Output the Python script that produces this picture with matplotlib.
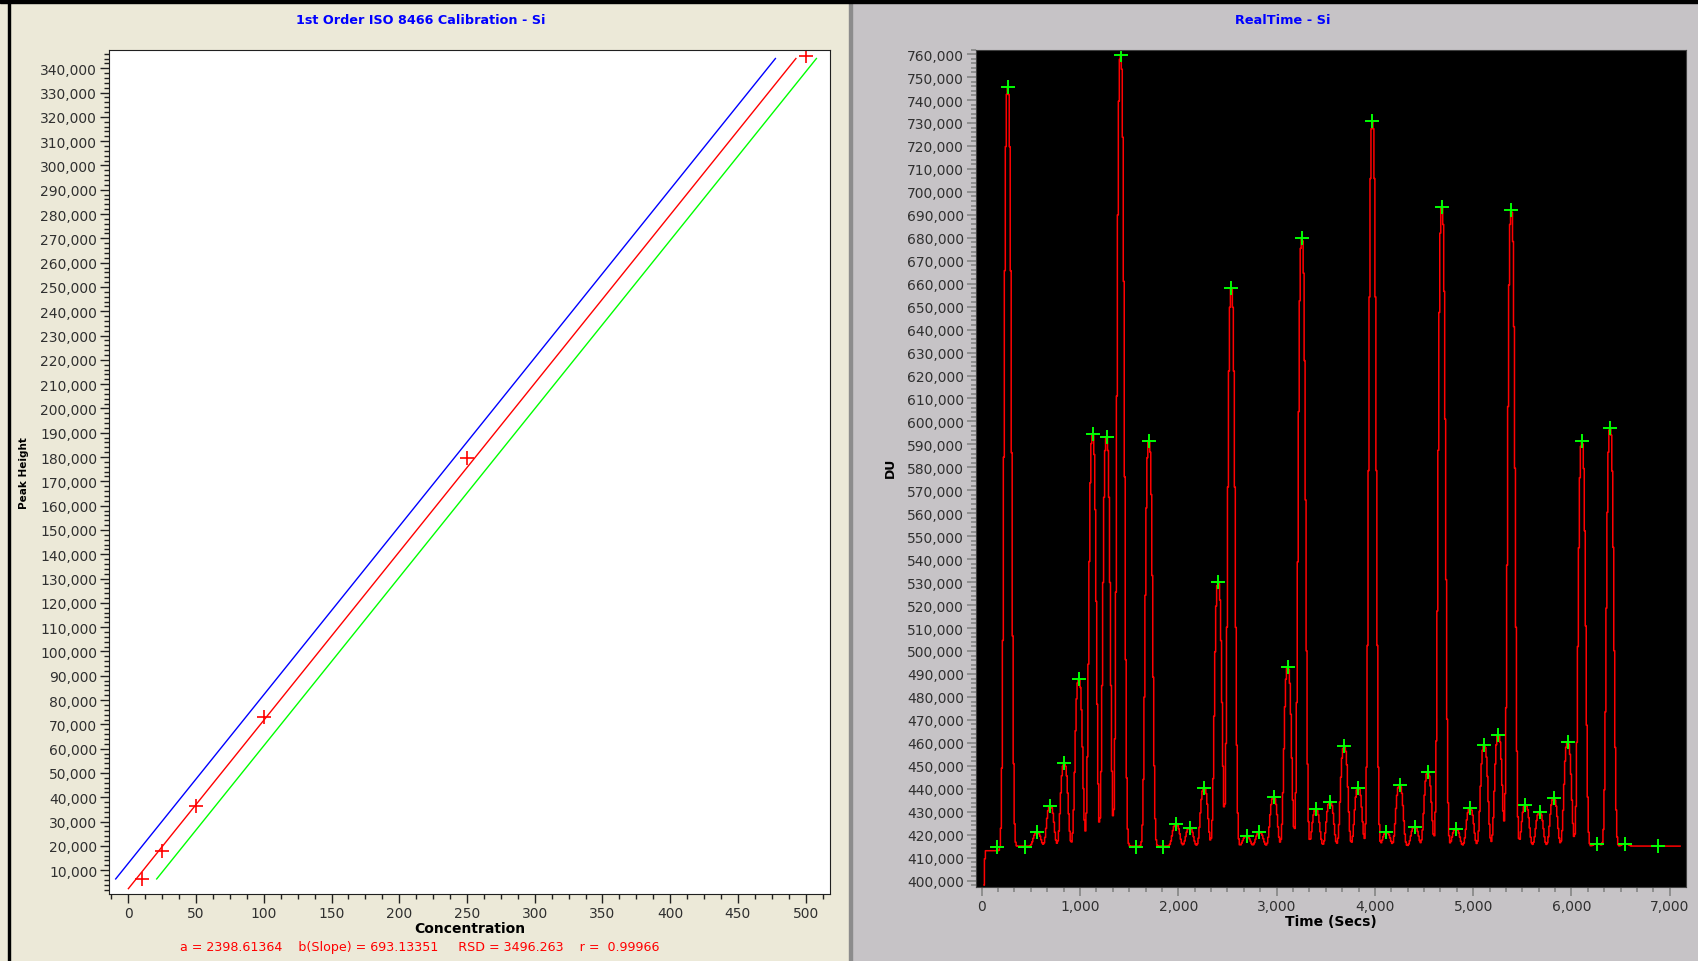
import numpy as np
import matplotlib.pyplot as plt
from matplotlib.patches import Rectangle
from matplotlib.ticker import MultipleLocator, AutoMinorLocator, FuncFormatter

# calibracion (patrones y ajuste de 1er orden)
conc_std = [10, 25, 50, 100, 250, 500]
height_std = [6500, 17700, 36300, 73200, 179500, 345000]
a_fit = 2398.61364
b_fit = 693.13351
rsd_fit = 3496.263
r_fit = 0.99966
band_y_min = 6400
line_y_max = 344000

# senal en tiempo real: picos marcados (tiempo, altura)
peak_times = [155, 265, 442, 563, 698, 840, 988, 1128, 1270, 1413, 1572, 1701,
              1844, 1977, 2115, 2263, 2406, 2540, 2694, 2826, 2970, 3114, 3257,
              3400, 3544, 3688, 3831, 3975, 4118, 4251, 4405, 4538, 4681, 4825,
              4968, 5112, 5256, 5388, 5532, 5675, 5819, 5962, 6106, 6260, 6393,
              6547, 6879]
peak_heights = [414500, 745800, 414500, 421000, 432500, 451000, 487700, 594400,
                593400, 759500, 414500, 591500, 414500, 424500, 423000, 440500,
                530000, 658000, 419300, 421000, 436300, 493000, 680000, 431000,
                434400, 458400, 440500, 730700, 421000, 441500, 423500, 447100,
                693500, 422600, 431500, 458900, 463600, 692000, 433000, 429700,
                435800, 460300, 591500, 416000, 597200, 416000, 415000]
baseline = 415000
start_baseline = 413000
peak_width = 46      # s, forma exp(-|dt/w|^3)
sample_step = 10     # s
start_times = [25, 30]
start_vals = [398000, 409500]
end_time = 7115

BEIGE = '#ECE9D8'
GRIS = '#C6C3C6'
W, H = 1698, 962

fig = plt.figure(figsize=(W / 100, H / 100), dpi=100)

# fondos de los paneles
fig.patches.append(Rectangle((0, 0), 851 / W, 1, transform=fig.transFigure, color=BEIGE, zorder=-10))
fig.patches.append(Rectangle((851 / W, 0), 1 - 851 / W, 1, transform=fig.transFigure, color=GRIS, zorder=-10))
fig.patches.append(Rectangle((849 / W, 0), 3 / W, 1, transform=fig.transFigure, color='#8C8C8C', zorder=-9))
fig.patches.append(Rectangle((0, 1 - 4 / H), 1, 4 / H, transform=fig.transFigure, color='black', zorder=-9))
fig.patches.append(Rectangle((8 / W, 0), 2 / W, 1, transform=fig.transFigure, color='black', zorder=-9))

miles = FuncFormatter(lambda v, p: f"{v:,.0f}")
narrow = ['Liberation Sans Narrow', 'DejaVu Sans']

# ---- panel izquierdo: calibracion ----
ax1 = fig.add_axes([109 / W, 1 - 895 / H, (830 - 109) / W, (895 - 51) / H])
ax1.set_facecolor('white')

off = 3 * rsd_fit
x_red = np.array([0, (line_y_max - a_fit) / b_fit])
x_blue = np.array([(band_y_min - a_fit - off) / b_fit, (line_y_max - a_fit - off) / b_fit])
x_green = np.array([(band_y_min - a_fit + off) / b_fit, (line_y_max - a_fit + off) / b_fit])
ax1.plot(x_blue, a_fit + off + b_fit * x_blue, color='#0000FF', lw=1)
ax1.plot(x_red, a_fit + b_fit * x_red, color='#FF0000', lw=1)
ax1.plot(x_green, a_fit - off + b_fit * x_green, color='#00FF00', lw=1)
ax1.plot(conc_std, height_std, ls='none', marker='+', ms=10, mew=1.2, color='#FF0000')

ax1.set_xlim(-14.3, 518)
ax1.set_ylim(200, 347500)
ax1.xaxis.set_major_locator(MultipleLocator(50))
ax1.xaxis.set_minor_locator(AutoMinorLocator(4))
ax1.yaxis.set_major_locator(MultipleLocator(10000))
ax1.yaxis.set_minor_locator(AutoMinorLocator(5))
ax1.yaxis.set_major_formatter(miles)
ax1.tick_params(which='major', length=6.5, width=1, color='#202020', labelsize=10,
                labelcolor='#303030', pad=2)
ax1.tick_params(which='minor', length=3.8, width=1, color='#202020')
for s in ax1.spines.values():
    s.set_color('#202020')

ax1.set_xlabel("Concentration", fontsize=10, fontweight='bold', family=narrow, labelpad=1)
fig.text(24 / W, 1 - 473 / H, "Peak Height", rotation=90, ha='center', va='center',
         fontsize=7.5, fontweight='bold', family=narrow)
fig.text(421 / W, 1 - 21 / H, "1st Order ISO 8466 Calibration - Si", ha='center', va='center',
         fontsize=9.2, fontweight='bold', color='#0000FF', family=narrow)
fig.text(420 / W, 1 - 948 / H,
         f"a = {a_fit:.5f}    b(Slope) = {b_fit:.5f}     RSD = {rsd_fit:.3f}    r =  {r_fit:.5f}",
         ha='center', va='center', fontsize=9.1, color='#FF0000', family=narrow)

# ---- panel derecho: senal en tiempo real ----
t = np.arange(45, end_time, float(sample_step))
y = np.where(t < 230, start_baseline, baseline).astype(float)
for tp, hp in zip(peak_times, peak_heights):
    y += max(hp - baseline, 0) * np.exp(-np.abs((t - tp) / peak_width) ** 3)
t_all = np.concatenate([start_times, t])
y_all = np.concatenate([start_vals, y])

ax2 = fig.add_axes([976 / W, 1 - 888 / H, (1686 - 976) / W, (888 - 50.5) / H])
ax2.set_facecolor('black')
ax2.plot(t_all, y_all, color='#FF0000', lw=1.1, drawstyle='steps-mid')
ax2.plot(peak_times, peak_heights, ls='none', marker='+', ms=10, mew=1.4, color='#00FF00')

ax2.set_xlim(-58, 7165)
ax2.set_ylim(397200, 762000)
ax2.xaxis.set_major_locator(MultipleLocator(1000))
ax2.xaxis.set_minor_locator(AutoMinorLocator(6))
ax2.yaxis.set_major_locator(MultipleLocator(10000))
ax2.yaxis.set_minor_locator(AutoMinorLocator(5))
ax2.xaxis.set_major_formatter(miles)
ax2.yaxis.set_major_formatter(miles)
ax2.tick_params(which='major', length=6.5, width=1.3, color='#8A8A8A', labelsize=10,
                labelcolor='#303030', pad=2)
ax2.tick_params(which='minor', length=3.8, width=1.3, color='#8A8A8A')
for s in ax2.spines.values():
    s.set_color('#404040')

ax2.set_xlabel("Time (Secs)", fontsize=10, fontweight='bold', family=narrow, labelpad=1)
fig.text(890 / W, 1 - 468 / H, "DU", rotation=90, ha='center', va='center',
         fontsize=9, fontweight='bold', family=narrow)
fig.text(1283 / W, 1 - 21 / H, "RealTime - Si", ha='center', va='center',
         fontsize=9.3, fontweight='bold', color='#0000FF', family=narrow)

plt.savefig("out.png", dpi=100)
